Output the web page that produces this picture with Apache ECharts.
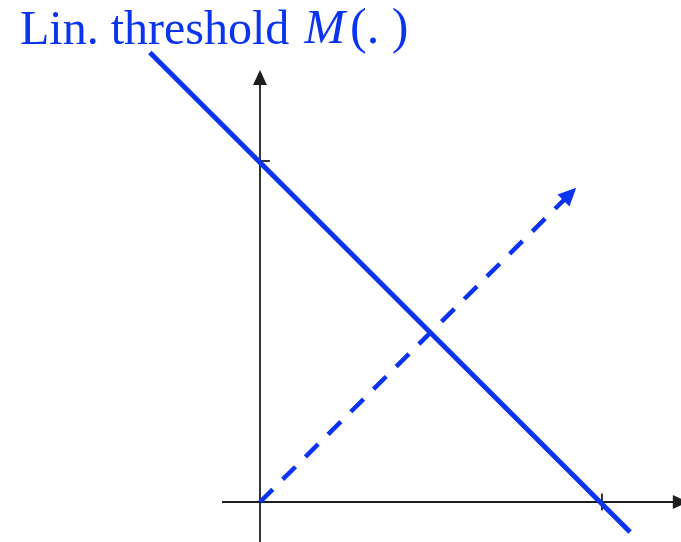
<!DOCTYPE html>
<html><head><meta charset="utf-8">
<script src="https://cdn.jsdelivr.net/npm/echarts@6/dist/echarts.min.js"></script>
<style>html,body{margin:0;padding:0;background:#fff}#c{width:681px;height:542px}</style>
</head><body><div id="c"></div>
<script>
// Title pieces
const titleMain = 'Lin. threshold ';
const titleSymbol = 'M';
const titleArg = '(. )';
// Solid threshold line (value coords)
const thresholdLine = [[-0.322, 1.318], [1.082, -0.088]];
// Dashed diagonal with arrow
const dashedLine = [[0, 0], [0.908, 0.905]];
const dashedArrow = [[0.906, 0.903]];
// Axes
const xAxisLine = [[-0.111, 0], [1.225, 0]];
const yAxisLine = [[0, -0.117], [0, 1.24]];
const xAxisArrow = [[1.229, 0]];
const yAxisArrow = [[0, 1.245]];
// Ticks
const yTick = [[0, 1], [0.029, 1]];
const xTick = [[1, -0.025], [1, 0.025]];
// Visible ranges
const xRange = [-0.7602, 1.2310];
const yRange = [-0.1173, 1.4721];

const blue = '#0a34ef';
const axisColor = '#1e1e1e';

function seg(data, color, width, type) {
  return { type: 'line', data: data, showSymbol: false, symbol: 'none', clip: false, silent: true,
    lineStyle: { color: color, width: width, type: type || 'solid', cap: 'butt' }, animation: false, z: 2 };
}
function head(data, rot, size, color) {
  return { type: 'scatter', data: data, symbol: 'triangle', symbolSize: size, symbolRotate: rot,
    itemStyle: { color: color, opacity: 1 }, silent: true, animation: false, z: 3 };
}

const chart = echarts.init(document.getElementById('c'), null, { renderer: 'canvas' });
chart.setOption({
  backgroundColor: '#fff',
  animation: false,
  title: {
    text: '{a|' + titleMain + '}{b|' + titleSymbol + '}{c|' + titleArg + '}',
    left: 15, top: 0,
    textStyle: {
      fontWeight: 'normal',
      rich: {
        a: { fontFamily: 'Liberation Serif', fontSize: 48, fontWeight: 'normal', color: blue, verticalAlign: 'bottom' },
        b: { fontFamily: 'Liberation Serif', fontSize: 49, fontWeight: 'normal', fontStyle: 'italic', color: blue, padding: [0, 5, 0, 3], verticalAlign: 'bottom' },
        c: { fontFamily: 'Liberation Serif', fontSize: 50, fontWeight: 'normal', color: blue, verticalAlign: 'bottom' }
      }
    }
  },
  grid: { left: 0, right: 0, top: 0, bottom: 0 },
  xAxis: { type: 'value', min: xRange[0], max: xRange[1], show: false },
  yAxis: { type: 'value', min: yRange[0], max: yRange[1], show: false },
  series: [
    seg(xAxisLine, axisColor, 1.8),
    seg(yAxisLine, axisColor, 1.8),
    seg(yTick, axisColor, 1.8),
    seg(xTick, axisColor, 1.8),
    head(xAxisArrow, -90, [14, 15], axisColor),
    head(yAxisArrow, 0, [14, 15], axisColor),
    seg(thresholdLine, blue, 5),
    seg(dashedLine, blue, 4.5, [18, 14]),
    head(dashedArrow, -45, [17, 18], blue)
  ]
});
</script></body></html>
